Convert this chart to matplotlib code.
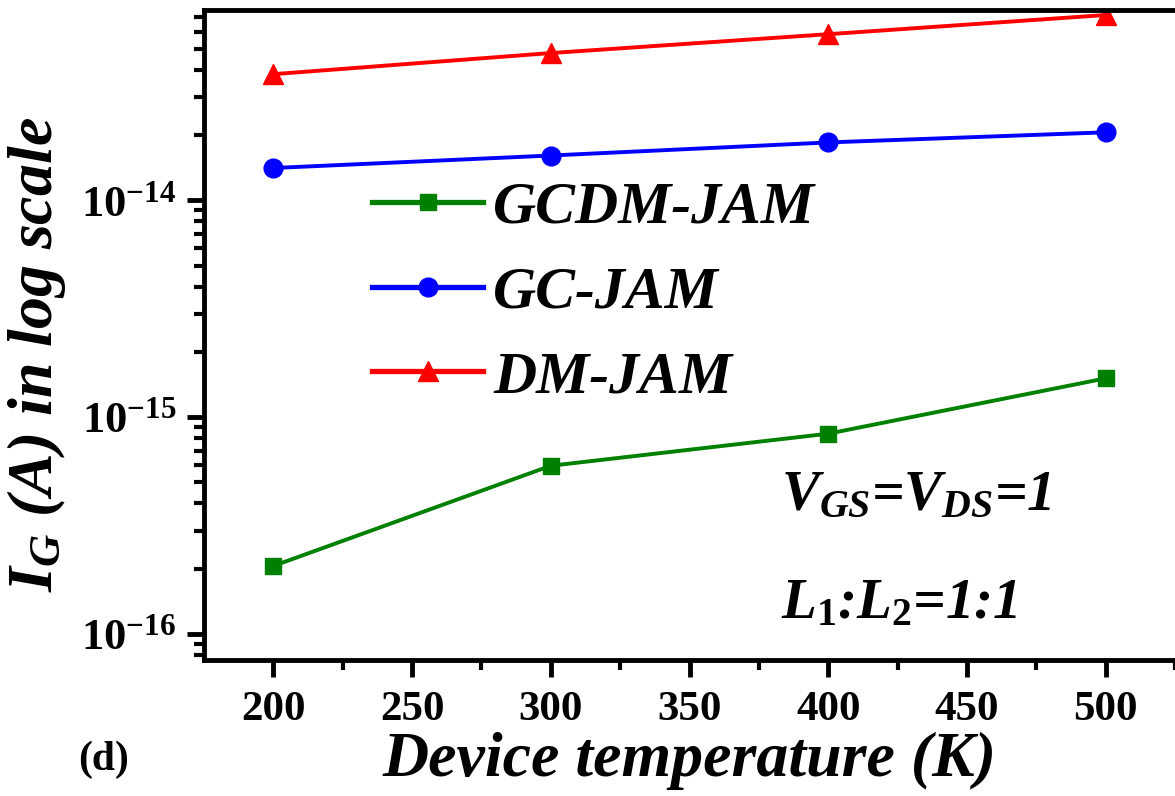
import matplotlib
matplotlib.use("Agg")
import matplotlib.pyplot as plt

# Gate current vs temperature for the three JAM structures
temperature = [200, 300, 400, 500]
gcdm_jam = [2.06e-16, 5.97e-16, 8.39e-16, 1.51e-15]
gc_jam = [1.41e-14, 1.61e-14, 1.85e-14, 2.06e-14]
dm_jam = [3.82e-14, 4.78e-14, 5.84e-14, 7.16e-14]

xticks = [200, 250, 300, 350, 400, 450, 500]
yticks = [1e-16, 1e-15, 1e-14]
ytick_labels = [r"$\mathregular{10^{-16}}$", r"$\mathregular{10^{-15}}$", r"$\mathregular{10^{-14}}$"]

plt.rcParams["font.family"] = "Liberation Serif"
plt.rcParams["font.weight"] = "bold"
plt.rcParams["mathtext.fontset"] = "custom"
plt.rcParams["mathtext.rm"] = "Liberation Serif:bold"
plt.rcParams["mathtext.it"] = "Liberation Serif:italic:bold"
plt.rcParams["mathtext.bf"] = "Liberation Serif:bold"

fig = plt.figure(figsize=(11.75, 7.96), dpi=100)
ax = fig.add_axes([204 / 1175, 1 - 660 / 796, 1 - 204 / 1175, (660 - 10) / 796])

ax.plot(temperature, gcdm_jam, color="#008000", marker="s", markersize=12, linewidth=2.8, label="GCDM-JAM")
ax.plot(temperature, gc_jam, color="#0000ff", marker="o", markersize=13.5, linewidth=2.8, label="GC-JAM")
ax.plot(temperature, dm_jam, color="#ff0000", marker="^", markersize=15, linewidth=2.8, label="DM-JAM")

ax.set_yscale("log")
ax.set_xlim(175, 525)
ax.set_ylim(10 ** -16.12, 10 ** -13.122)

ax.set_xticks(xticks)
ax.set_xticklabels([str(t) for t in xticks])
ax.set_xticks([225, 275, 325, 375, 425, 475, 525], minor=True)
ax.set_yticks(yticks)
ax.set_yticklabels(ytick_labels)

for side in ["left", "bottom", "top"]:
    ax.spines[side].set_linewidth(3.5)
ax.spines["right"].set_visible(False)

ax.tick_params(axis="both", which="major", direction="out", length=12, width=3.5, pad=8)
ax.tick_params(axis="both", which="minor", direction="out", length=7, width=3)
ax.tick_params(axis="x", which="major", labelsize=31, pad=10)
ax.tick_params(axis="y", which="major", labelsize=32, pad=8)
ax.tick_params(top=False, right=False, which="both")

ax.set_xlabel("Device temperature (K)", fontsize=46, fontstyle="italic", fontweight="bold", labelpad=2)
ax.set_ylabel(r"$I_G$ (A) in log scale", fontsize=46, fontstyle="italic", fontweight="bold")
ax.yaxis.set_label_coords(-0.14, 0.47)

leg = ax.legend(loc="upper left", bbox_to_anchor=(372 / 1175, 1 - 181 / 796), bbox_transform=fig.transFigure,
                frameon=False, handlelength=1.86, handletextpad=0.17, labelspacing=0.5, borderpad=0,
                borderaxespad=0, prop={"family": "Liberation Serif", "style": "italic", "weight": "bold", "size": 43})
for line in leg.get_lines():
    line.set_linewidth(3.8)

ax.text(781 / 1175, 1 - 496 / 796, r"$V_{GS}$=$V_{DS}$=1", transform=fig.transFigure, fontsize=41,
        fontstyle="italic", fontweight="bold", va="center", ha="left")
ax.text(781 / 1175, 1 - 604 / 796, r"$L_1$:$L_2$=1:1", transform=fig.transFigure, fontsize=41,
        fontstyle="italic", fontweight="bold", va="center", ha="left")

fig.text(78 / 1175, 1 - 760 / 796, "(d)", fontsize=30, fontweight="bold", va="center", ha="left")

fig.savefig("out.png", dpi=100)
